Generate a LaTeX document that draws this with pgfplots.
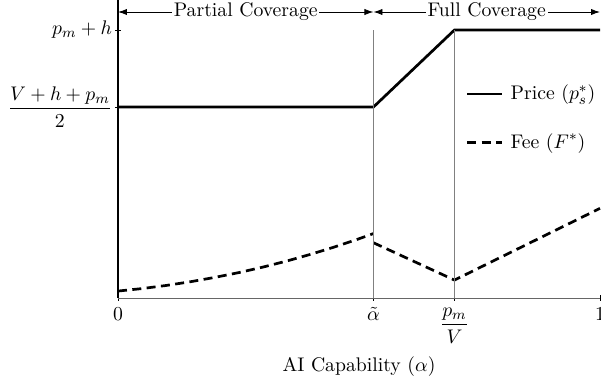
\documentclass[11pt,border=0pt]{standalone}
\usepackage{pgfplots}
\pgfplotsset{compat=1.18}
\usepackage{amsmath}
\usetikzlibrary{arrows.meta}
\begin{document}
\begin{tikzpicture}
\begin{axis}[
  scale only axis,
  width=267.8pt, height=165.6pt,
  xmin=0, xmax=1, ymin=0, ymax=298,
  axis lines=left,
  x axis line style={-, gray!80!black, line width=0.6pt},
  y axis line style={-, black, line width=0.6pt},
  xtick={0,0.53,0.698,1},
  xticklabels={$0$,$\tilde{\alpha}$,$\dfrac{p_m}{V}$,$1$},
  ytick={191,268},
  yticklabels={$\dfrac{V+h+p_m}{2}$,$p_m+h$},
  major tick length=3pt,
  tick style={black, line width=0.5pt},
  yticklabel style={xshift=2pt},
  xlabel={AI Capability ($\alpha$)},
  clip=false,
  legend style={draw=none, fill=none, at={(axis cs:0.71,180)}, anchor=west, row sep=13pt, font=\normalsize},
  legend cell align=left,
  legend image code/.code={\draw[#1] (0cm,0cm) -- (0.68cm,0cm); \path (0.75cm,0cm);},
]
\addplot[black, line width=1.5pt] coordinates {(0,191) (0.53,191) (0.698,268) (1,268)};
\addlegendentry{Price ($p_s^*$)}
\addplot[black, line width=1.5pt, dash pattern=on 5pt off 3pt] coordinates {
(0,7) (0.05,9.5) (0.1,12.6) (0.15,16.3) (0.2,20.6) (0.25,25.4) (0.3,30.9) (0.35,37.0) (0.4,43.8) (0.45,51.2) (0.5,59.3) (0.53,64.5)};
\addlegendentry{Fee ($F^*$)}
\addplot[black, line width=1.5pt, dash pattern=on 5pt off 3pt, forget plot] coordinates {(0.53,55.3) (0.698,18) (1,89.7)};
\addplot[gray, line width=0.5pt, forget plot] coordinates {(0.53,0) (0.53,268)};
\addplot[gray, line width=0.5pt, forget plot] coordinates {(0.698,0) (0.698,268)};
\draw[{Latex[length=5pt,width=3.5pt]}-{Latex[length=5pt,width=3.5pt]}, line width=0.5pt, black] (axis cs:0,286) -- node[fill=white, inner sep=1pt] {Partial Coverage} (axis cs:0.53,286);
\draw[{Latex[length=5pt,width=3.5pt]}-{Latex[length=5pt,width=3.5pt]}, line width=0.5pt, black] (axis cs:0.53,286) -- node[fill=white, inner sep=1pt] {Full Coverage} (axis cs:1,286);
\coordinate (BL) at (axis cs:-0.2448,-90);
\coordinate (TR) at (axis cs:1.00207,298);
\end{axis}
\pgfresetboundingbox
\useasboundingbox (BL) rectangle (TR);
\end{tikzpicture}
\end{document}
